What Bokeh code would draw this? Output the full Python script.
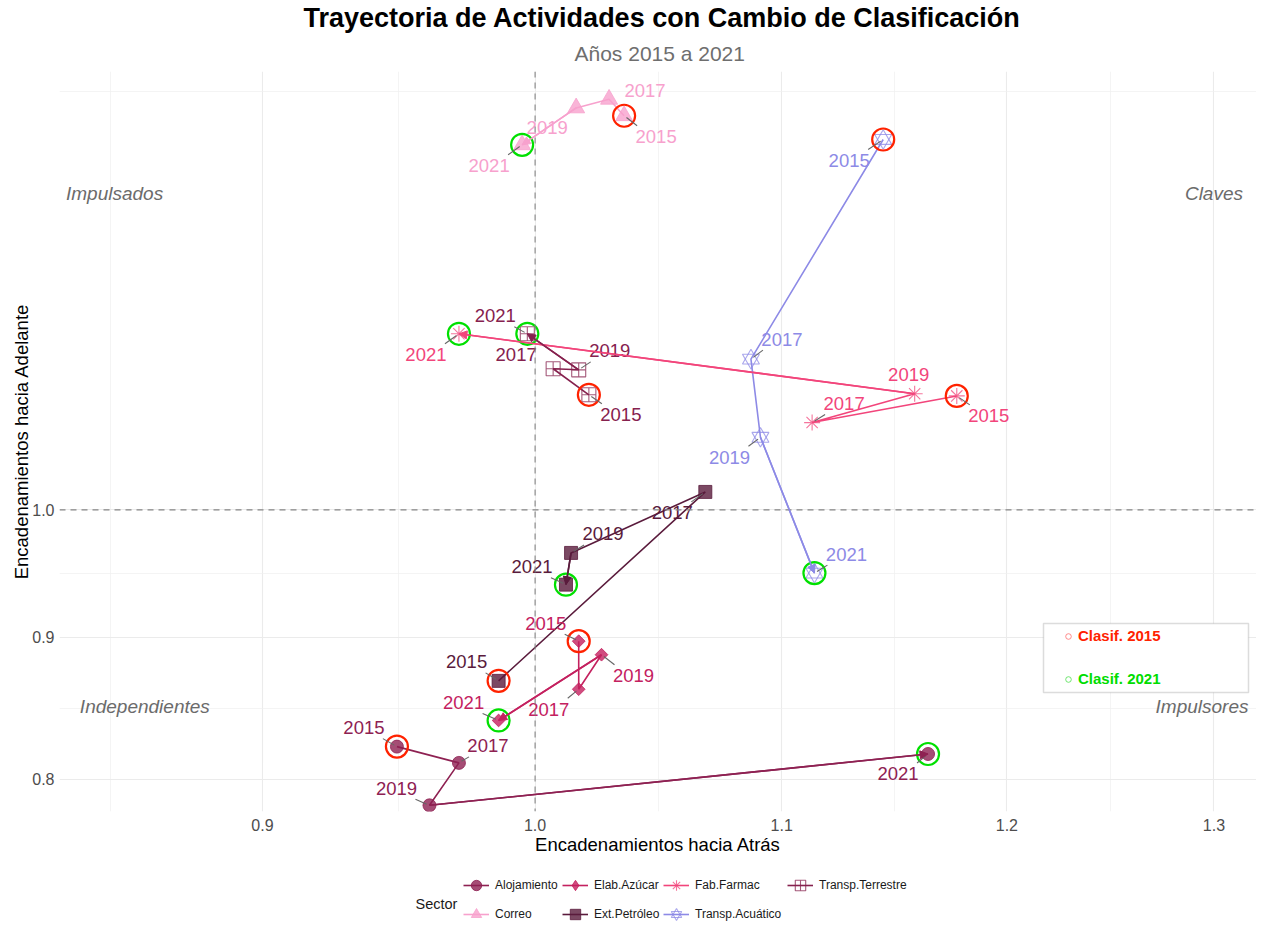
import math
from bokeh.plotting import figure
from bokeh.layouts import column
from bokeh.models import (ColumnDataSource, FixedTicker, PrintfTickFormatter, Span, Label,
                          Legend, LegendItem, Title, BoxAnnotation, Arrow, NormalHead, Range1d)
from bokeh.core.properties import value
from bokeh.embed import file_html
from bokeh.resources import INLINE

# ---------------- data ----------------
years = [2015, 2017, 2019, 2021]
sectores = ["Alojamiento", "Correo", "Elab.Azúcar", "Ext.Petróleo",
            "Fab.Farmac", "Transp.Acuático", "Transp.Terrestre"]

alojamiento_atras = [0.948, 0.971, 0.960, 1.164]
alojamiento_adelante = [0.822, 0.811, 0.783, 0.817]
correo_atras = [1.035, 1.029, 1.016, 0.995]
correo_adelante = [1.386, 1.405, 1.395, 1.353]
azucar_atras = [1.017, 1.017, 1.026, 0.986]
azucar_adelante = [0.897, 0.862, 0.887, 0.840]
petroleo_atras = [0.986, 1.068, 1.014, 1.012]
petroleo_adelante = [0.868, 1.015, 0.965, 0.940]
farmac_atras = [1.177, 1.113, 1.158, 0.971]
farmac_adelante = [1.099, 1.075, 1.101, 1.157]
acuatico_atras = [1.144, 1.087, 1.091, 1.114]
acuatico_adelante = [1.359, 1.133, 1.062, 0.949]
terrestre_atras = [1.021, 1.007, 1.017, 0.997]
terrestre_adelante = [1.100, 1.124, 1.123, 1.157]

x_ticks = [0.9, 1.0, 1.1, 1.2, 1.3]
y_ticks = [0.8, 0.9, 1.0]

cuadrantes = ["Impulsados", "Claves", "Independientes", "Impulsores"]
cuadrante_x = [0.85, 1.30, 0.86, 1.294]
cuadrante_y = [1.30, 1.30, 0.85, 0.85]

# ---------------- styles ----------------
series = [
    ("Alojamiento", alojamiento_atras, alojamiento_adelante),
    ("Correo", correo_atras, correo_adelante),
    ("Elab.Azúcar", azucar_atras, azucar_adelante),
    ("Ext.Petróleo", petroleo_atras, petroleo_adelante),
    ("Fab.Farmac", farmac_atras, farmac_adelante),
    ("Transp.Acuático", acuatico_atras, acuatico_adelante),
    ("Transp.Terrestre", terrestre_atras, terrestre_adelante),
]
colors = {
    "Alojamiento": "#8E2152",
    "Correo": "#F7A1CD",
    "Elab.Azúcar": "#C4215F",
    "Ext.Petróleo": "#5A1B3C",
    "Fab.Farmac": "#F2457B",
    "Transp.Acuático": "#8D8AE6",
    "Transp.Terrestre": "#86214E",
}
# (markers, filled, size, angle, legend marker)
markers = {
    "Alojamiento": (["circle"], True, 13, 0.0, ["circle"]),
    "Correo": (["triangle"], True, 17, 0.0, ["triangle"]),
    "Elab.Azúcar": (["square"], True, 9, math.pi / 4, ["diamond"]),
    "Ext.Petróleo": (["square"], True, 13, 0.0, ["square"]),
    "Fab.Farmac": (["asterisk"], False, 16, 0.0, ["asterisk"]),
    "Transp.Acuático": (["triangle", "inverted_triangle"], False, 17, 0.0,
                        ["triangle", "inverted_triangle"]),
    "Transp.Terrestre": (["square_cross"], False, 14, 0.0, ["square_cross"]),
}
# label offsets (px, right / down) for the year texts, and whether a leader is drawn
label_off = {
    "Alojamiento": [(-33, -19), (29, -17), (-33, -17), (-30, 20)],
    "Correo": [(32, 21), (36, -9), (-29, 20), (-33, 21)],
    "Elab.Azúcar": [(-33, -18), (-30, 20), (32, 21), (-35, -18)],
    "Ext.Petróleo": [(-32, -19), (-33, 21), (32, -19), (-34, -18)],
    "Fab.Farmac": [(32, 20), (32, -19), (-6, -19), (-33, 21)],
    "Transp.Acuático": [(-34, 21), (31, -20), (-31, 20), (32, -19)],
    "Transp.Terrestre": [(32, 20), (-37, -14), (31, -19), (-32, -18)],
}
leader = {
    "Correo": [1, 0, 0, 1],
    "Fab.Farmac": [1, 1, 0, 1],
    "Transp.Terrestre": [1, 0, 1, 1],
}

FONT = "Liberation Sans"
W, H = 1256, 864
H2 = 63
BL, BR, BT = 59, 0, 70
FW, FH = W - BL - BR, 741
BB = H - BT - FH
KX_T = 5958.0
X0 = 0.8321
X1 = X0 * 10 ** (FW / KX_T)
Y0, Y1 = 0.7790, 1.4377
KX = FW / (math.log10(X1) - math.log10(X0))
KY = FH / (math.log10(Y1) - math.log10(Y0))

p = figure(width=W, height=H, x_axis_type="log", y_axis_type="log",
           x_range=Range1d(X0, X1), y_range=Range1d(Y0, Y1),
           output_backend="svg", toolbar_location=None, title=None,
           min_border_left=BL, min_border_right=BR, min_border_top=BT, min_border_bottom=BB)
p.outline_line_color = None
p.background_fill_color = "white"
p.border_fill_color = "white"

# titles
sub = Title(text="Años 2015 a 2021", align="left", text_font=FONT, text_font_size="21px",
            text_font_style="normal", text_color="#6E6E6E", standoff=14, offset=515)
p.add_layout(sub, "above")
tit = Title(text="Trayectoria de Actividades con Cambio de Clasificación", align="left",
            text_font=FONT, text_font_size="27px", text_font_style="bold", text_color="#000000",
            standoff=0, offset=244)
p.add_layout(tit, "above")

# axes & grid
xt = FixedTicker(ticks=x_ticks, minor_ticks=[0.8485, 0.9487, 1.0488, 1.1489, 1.2490])
yt = FixedTicker(ticks=y_ticks, minor_ticks=[0.8485, 0.9487, 1.4142])
p.xaxis.ticker = xt
p.yaxis.ticker = yt
p.xgrid.ticker = xt
p.ygrid.ticker = yt
for ax in (p.xaxis, p.yaxis):
    ax.formatter = PrintfTickFormatter(format="%.1f")
    ax.axis_line_color = None
    ax.major_tick_line_color = None
    ax.minor_tick_line_color = None
    ax.major_tick_out = 0
    ax.major_tick_in = 0
    ax.major_label_text_font = FONT
    ax.major_label_text_font_size = "16px"
    ax.major_label_text_color = "#4D4D4D"
    ax.axis_label_text_font = FONT
    ax.axis_label_text_font_size = "18.5px"
    ax.axis_label_text_font_style = "normal"
    ax.axis_label_text_color = "#000000"
p.xaxis.axis_label = "Encadenamientos hacia Atrás"
p.yaxis.axis_label = "Encadenamientos hacia Adelante"
p.xaxis.major_label_standoff = 3
p.xaxis.axis_label_standoff = 0
p.yaxis.major_label_standoff = 1
p.yaxis.axis_label_standoff = -3
for g in (p.xgrid, p.ygrid):
    g.grid_line_color = "#EBEBEB"
    g.grid_line_width = 1.1
    g.minor_grid_line_color = "#EFEFEF"
    g.minor_grid_line_width = 0.7

p.add_layout(Span(location=1.0, dimension="height", line_color="#858585", line_width=1.1, line_dash="6 5"))
p.add_layout(Span(location=1.0, dimension="width", line_color="#858585", line_width=1.1, line_dash="6 5"))

# quadrant labels
for t, qx, qy in zip(cuadrantes, cuadrante_x, cuadrante_y):
    p.add_layout(Label(x=qx, y=qy, text=t, text_align="center", text_baseline="middle",
                       text_font=FONT, text_font_size="19px", text_font_style="italic",
                       text_color="#6B6B6B"))

# paths and markers
for name, xs, ys in series:
    c = colors[name]
    src = ColumnDataSource(dict(x=xs, y=ys))
    p.line("x", "y", source=src, line_color=c, line_width=1.6)
    shapes, filled, size, ang, _ = markers[name]
    for m in shapes:
        if filled:
            p.scatter("x", "y", source=src, marker=m, size=size, angle=ang, fill_color=c,
                      fill_alpha=0.8, line_color=c, line_alpha=0.8)
        else:
            p.scatter("x", "y", source=src, marker=m, size=size, fill_color=None,
                      line_color=c, line_alpha=0.75, line_width=1.1)
    p.add_layout(Arrow(end=NormalHead(size=8, fill_color=c, line_color=c, line_width=1),
                       x_start=xs[2], y_start=ys[2], x_end=xs[3], y_end=ys[3],
                       line_color=c, line_width=1.6))

# classification rings
ring15 = ColumnDataSource(dict(x=[s[1][0] for s in series], y=[s[2][0] for s in series]))
ring21 = ColumnDataSource(dict(x=[s[1][3] for s in series], y=[s[2][3] for s in series]))
p.scatter("x", "y", source=ring15, marker="circle", size=22, fill_color=None,
          line_color="#FF2200", line_width=2.2)
p.scatter("x", "y", source=ring21, marker="circle", size=22, fill_color=None,
          line_color="#00E000", line_width=2.2)

# year labels + leader segments
lx, ly, lt, lc, ldx, ldy = [], [], [], [], [], []
sx0, sy0, sx1, sy1 = [], [], [], []
for name, xs, ys in series:
    flags = leader.get(name, [1, 1, 1, 1])
    for i, yr in enumerate(years):
        dx, dy = label_off[name][i]
        lx.append(xs[i]); ly.append(ys[i]); lt.append(str(yr)); lc.append(colors[name])
        ldx.append(dx); ldy.append(dy)
        if flags[i]:
            ex = min(max(0, dx - 19), dx + 19)
            ey = min(max(0, dy - 11), dy + 11)
            d = math.hypot(ex, ey)
            if d > 5:
                bx, by = ex * 3 / d, ey * 3 / d
                sx0.append(xs[i] * 10 ** (bx / KX)); sy0.append(ys[i] * 10 ** (-by / KY))
                sx1.append(xs[i] * 10 ** (ex / KX)); sy1.append(ys[i] * 10 ** (-ey / KY))
p.segment(x0=sx0, y0=sy0, x1=sx1, y1=sy1, line_color="#666666", line_width=1.1)
lab_src = ColumnDataSource(dict(x=lx, y=ly, t=lt, c=lc, dx=ldx, dy=ldy))
p.text("x", "y", text="t", source=lab_src, text_color="c", x_offset="dx", y_offset="dy",
       text_align="center", text_baseline="middle", text_font=value(FONT),
       text_font_size=value("18.5px"))

# classification legend box (inside the panel)
p.add_layout(BoxAnnotation(left=984, right=1189, top=188, bottom=119,
                           left_units="screen", right_units="screen",
                           top_units="screen", bottom_units="screen",
                           fill_color="white", fill_alpha=1.0,
                           line_color="#8C8C8C", line_width=1.5))
# legend proxies: a single point outside the visible range
proxy = dict(x=[10.0], y=[10.0])
dummy15 = p.scatter("x", "y", source=ColumnDataSource(proxy), marker="circle", size=6,
                    fill_color=None, line_color="#FF7070", line_alpha=0.8, line_width=1)
dummy21 = p.scatter("x", "y", source=ColumnDataSource(proxy), marker="circle", size=6,
                    fill_color=None, line_color="#50E050", line_alpha=0.8, line_width=1)
for lab, rr, col, yy in (("Clasif. 2015", dummy15, "#FF2200", 167),
                         ("Clasif. 2021", dummy21, "#00DD00", 124)):
    lg = Legend(items=[LegendItem(label=lab, renderers=[rr])], location=(1002, yy),
                label_text_color=col, label_text_font=FONT, label_text_font_style="bold",
                label_text_font_size="15px", glyph_width=14, glyph_height=14,
                label_height=14, label_standoff=3, padding=0, margin=0,
                border_line_color=None, background_fill_alpha=0)
    p.add_layout(lg)

# ---------------- sector legend (strip below; frame aligned with main plot) ----------------
p2 = figure(width=W, height=H2, x_range=Range1d(0, 1), y_range=Range1d(0, 1),
            output_backend="svg", toolbar_location=None, title=None,
            x_axis_location=None, y_axis_location=None,
            min_border_left=BL, min_border_right=0, min_border_top=0, min_border_bottom=0)
p2.grid.visible = False
p2.outline_line_color = None
p2.border_fill_color = "white"

leg_r = {}
for name, xs, ys in series:
    c = colors[name]
    es = ColumnDataSource(dict(x=[-5.0], y=[-5.0]))
    rs = [p2.line("x", "y", source=es, line_color=c, line_width=1.6)]
    _, filled, size, ang, lshapes = markers[name]
    for m in lshapes:
        if filled:
            rs.append(p2.scatter("x", "y", source=es, marker=m, size=size,
                                 fill_color=c, fill_alpha=0.8, line_color=c, line_alpha=0.8))
        else:
            rs.append(p2.scatter("x", "y", source=es, marker=m, size=size, fill_color=None,
                                 line_color=c, line_alpha=0.75, line_width=1.1))
    leg_r[name] = rs

cols = [["Alojamiento", "Correo"], ["Elab.Azúcar", "Ext.Petróleo"],
        ["Fab.Farmac", "Transp.Acuático"], ["Transp.Terrestre"]]
col_x = [404, 503, 604, 728]
for names, cx in zip(cols, col_x):
    items = [LegendItem(label=n, renderers=leg_r[n]) for n in names]
    yy = 0 if len(names) == 2 else 29
    lg = Legend(items=items, location=(cx, yy), orientation="vertical",
                label_text_font=FONT, label_text_font_size="12px", label_text_color="#1A1A1A",
                glyph_width=26, glyph_height=26, label_height=26, spacing=3,
                label_standoff=6, padding=0, margin=0,
                border_line_color=None, background_fill_alpha=0)
    p2.add_layout(lg)
p2.add_layout(Label(x=356, y=24, x_units="screen", y_units="screen", text="Sector",
                    text_align="left", text_baseline="middle", text_font=FONT,
                    text_font_size="14.5px", text_color="#1A1A1A"))

layout = column(p, p2, spacing=0)
open("out.html", "w").write(file_html(layout, INLINE))
